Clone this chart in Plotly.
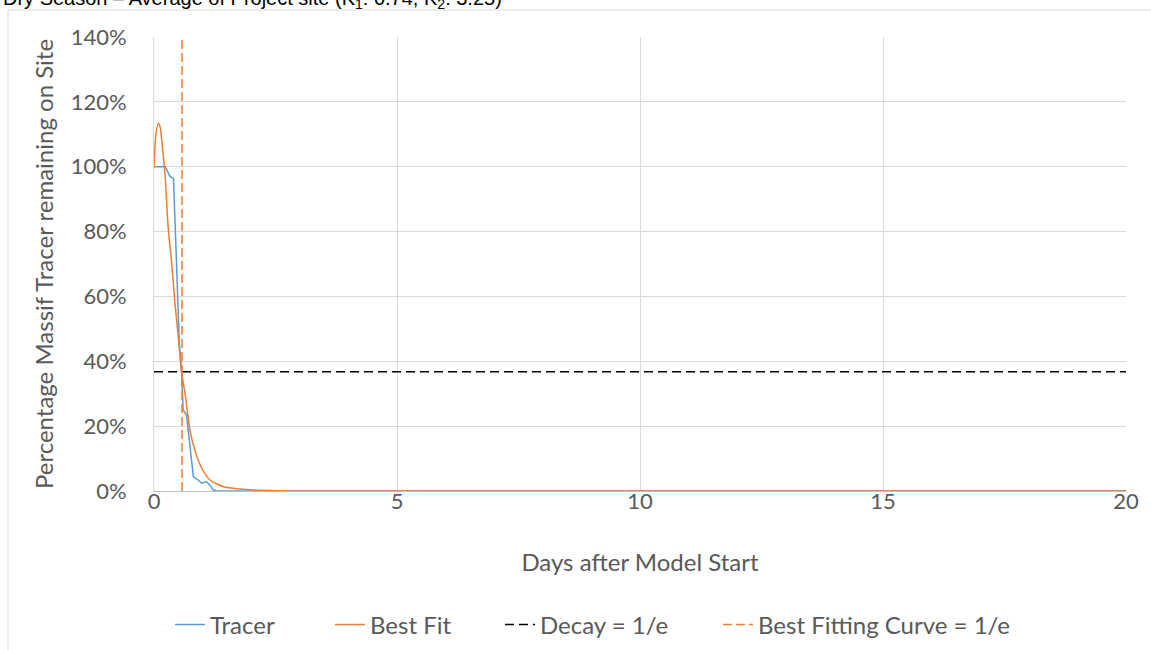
import plotly.graph_objects as go

# Tracer mass remaining on site (fraction of initial) vs days
tracer_days = [0.0, 0.23, 0.33, 0.40, 0.45, 0.52, 0.57, 0.60, 0.67, 0.74, 0.81,
               0.91, 0.98, 1.08, 1.15, 1.22, 1.30, 2.0, 5.0, 10.0, 15.0, 20.0]
tracer_vals = [1.00, 1.00, 0.97, 0.964, 0.76, 0.456, 0.364, 0.25, 0.234, 0.148, 0.044,
               0.034, 0.024, 0.029, 0.018, 0.003, 0.0, 0.0, 0.0, 0.0, 0.0, 0.0]

# Fitted two-rate decay curve
fit_days = [0.0, 0.04, 0.09, 0.13, 0.16, 0.23, 0.29, 0.36, 0.43, 0.50, 0.57, 0.64,
            0.74, 0.84, 0.98, 1.15, 1.43, 1.77, 2.04, 2.5, 3.0, 5.0, 10.0, 15.0, 20.0]
fit_vals = [1.00, 1.10, 1.134, 1.12, 1.08, 0.969, 0.815, 0.71, 0.58, 0.476, 0.364, 0.30,
            0.188, 0.126, 0.071, 0.034, 0.013, 0.006, 0.003, 0.001, 0.0, 0.0, 0.0, 0.0, 0.0]

# Reference levels
decay_level = 0.3679          # 1/e
decay_days = [0.0, 20.0]
best_fit_1e_day = 0.576       # day when fitted curve reaches 1/e
vline_vals = [0.0, 1.4]

title_text = "Dry Season – Average of Project site (K<sub>1</sub>: 0.74, K<sub>2</sub>: 3.25)"
x_title = "Days after Model Start"
y_title = "Percentage Massif Tracer remaining on Site"

BLUE = "#5B9BD5"
ORANGE = "#ED7D31"
TXT = "#595959"
FONT = "Lato, Open Sans, sans-serif"

L, R, T, B = 154, 25, 37, 159
W, H = 1151, 650
pw, ph = W - L - R, H - T - B

def px_x(p):
    return (p - L) / pw

def px_y(p):
    return (H - B - p) / ph

fig = go.Figure()
fig.add_trace(go.Scatter(x=tracer_days, y=tracer_vals, mode="lines", name="Tracer",
                         legend="legend",
                         line=dict(color=BLUE, width=1.5)))
fig.add_trace(go.Scatter(x=fit_days, y=fit_vals, mode="lines", name="Best Fit",
                         legend="legend2",
                         line=dict(color=ORANGE, width=1.5, shape="spline", smoothing=0.6)))
fig.add_trace(go.Scatter(x=decay_days, y=[decay_level] * len(decay_days), mode="lines",
                         name="Decay = 1/e", legend="legend3",
                         line=dict(color="#000000", width=1.5, dash="9px,5px")))
fig.add_trace(go.Scatter(x=[best_fit_1e_day] * len(vline_vals), y=vline_vals, mode="lines",
                         name="Best Fitting Curve = 1/e", legend="legend4",
                         line=dict(color=ORANGE, width=1.5, dash="9px,4px")))

# one legend box per entry so each sits where it belongs along the bottom row
legend_left_px = [170, 330, 500, 718]
legend_boxes = {}
for i, lx in enumerate(legend_left_px):
    key = "legend" if i == 0 else f"legend{i + 1}"
    legend_boxes[key] = dict(orientation="h", x=px_x(lx), y=px_y(625), xanchor="left",
                             yanchor="middle", font=dict(size=24, color=TXT),
                             bgcolor="rgba(0,0,0,0)", borderwidth=0)

fig.update_layout(
    width=W, height=H,
    margin=dict(l=L, r=R, t=T, b=B, autoexpand=False),
    paper_bgcolor="white", plot_bgcolor="white",
    font=dict(family=FONT, color=TXT, size=22),
    showlegend=True,
    xaxis=dict(range=[0, 20], dtick=5, tick0=0, showgrid=True, gridcolor="#D9D9D9",
               zeroline=False, showline=True, linecolor="#BFBFBF", linewidth=1,
               ticks="", tickfont=dict(size=22, color=TXT), ticklabelstandoff=-9,
               title=dict(text=x_title, font=dict(size=24, color=TXT), standoff=40),
               automargin=False),
    yaxis=dict(range=[0, 1.4], dtick=0.2, tick0=0, tickformat=".0%", showgrid=True,
               gridcolor="#D9D9D9", zeroline=False, showline=True, linecolor="#D9D9D9",
               linewidth=1, ticks="", tickfont=dict(size=22, color=TXT),
               ticklabelstandoff=22,
               title=dict(text=y_title, font=dict(size=24, color=TXT), standoff=10),
               automargin=False),
    shapes=[dict(type="rect", xref="paper", yref="paper",
                 x0=px_x(8), x1=px_x(1200), y0=px_y(700), y1=px_y(10),
                 line=dict(color="#D9D9D9", width=1), fillcolor="rgba(0,0,0,0)",
                 layer="below")],
    annotations=[dict(text=title_text, xref="paper", yref="paper", x=px_x(1), y=px_y(-1),
                      xanchor="left", yanchor="middle", showarrow=False,
                      font=dict(family="Liberation Sans, Arial, sans-serif", size=20,
                                color="#000000"))],
    **legend_boxes,
)

fig.write_html("out.html")
